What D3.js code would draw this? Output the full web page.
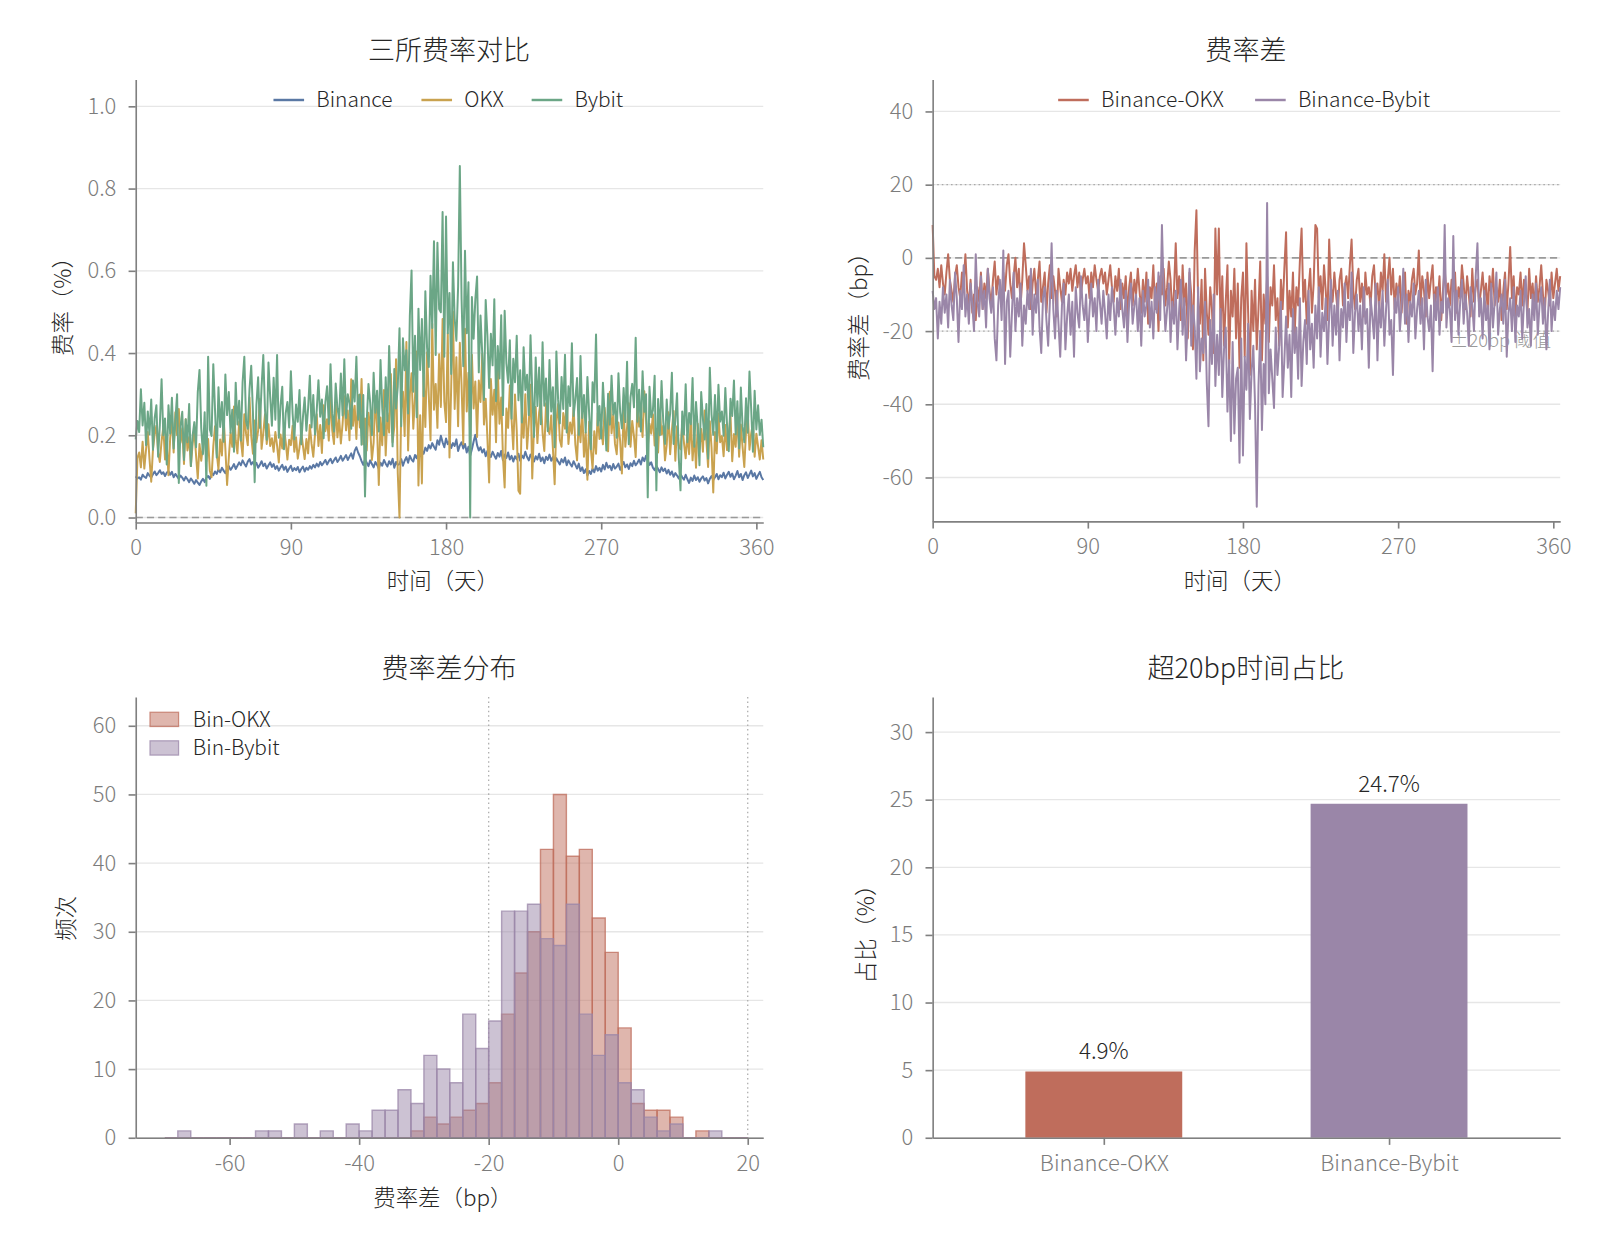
<!DOCTYPE html>
<html><head><meta charset="utf-8">
<script src="https://cdn.jsdelivr.net/npm/d3@7"></script>
<style>
body{margin:0;background:#fff}
svg{display:block}
text{font-family:"Noto Sans CJK SC","Noto Sans",sans-serif}
</style>
</head><body>
<svg id="c" width="1600" height="1244"></svg>
<script>
// ---------------- DATA ----------------
// Binance daily funding rate (%)
const binance = [
0.100,0.095,0.098,0.092,0.104,0.099,0.096,0.108,0.102,0.097,0.105,0.112,0.103,0.108,0.115,0.106,0.110,0.101,0.109,0.113,
0.104,0.111,0.098,0.106,0.100,0.094,0.102,0.097,0.090,0.099,0.093,0.086,0.095,0.089,0.082,0.091,0.085,0.079,0.088,0.094,
0.086,0.097,0.101,0.094,0.108,0.103,0.112,0.106,0.117,0.110,0.121,0.114,0.108,0.119,0.125,0.116,0.122,0.130,0.118,0.126,
0.134,0.127,0.139,0.131,0.124,0.136,0.142,0.129,0.135,0.126,0.133,0.121,0.128,0.137,0.125,0.131,0.119,0.127,0.134,0.123,
0.130,0.118,0.125,0.114,0.122,0.128,0.116,0.124,0.111,0.119,0.126,0.113,0.120,0.115,0.123,0.110,0.118,0.124,0.112,0.121,
0.116,0.125,0.119,0.128,0.122,0.131,0.124,0.135,0.127,0.133,0.140,0.129,0.137,0.143,0.132,0.139,0.146,0.135,0.141,0.150,
0.138,0.145,0.152,0.140,0.148,0.156,0.143,0.162,0.171,0.158,0.149,0.137,0.128,0.141,0.133,0.125,0.139,0.130,0.122,0.135,
0.128,0.119,0.133,0.126,0.140,0.131,0.124,0.137,0.129,0.143,0.121,0.135,0.128,0.130,0.142,0.126,0.138,0.147,0.133,0.150,
0.141,0.136,0.152,0.144,0.158,0.149,0.163,0.155,0.170,0.162,0.176,0.168,0.181,0.172,0.165,0.188,0.177,0.199,0.183,0.171,
0.192,0.178,0.186,0.169,0.181,0.174,0.190,0.162,0.175,0.183,0.168,0.179,0.158,0.172,0.150,0.166,0.185,0.201,0.176,0.163,
0.171,0.158,0.166,0.149,0.162,0.155,0.147,0.160,0.151,0.143,0.157,0.148,0.162,0.139,0.153,0.145,0.158,0.141,0.150,0.136,
0.149,0.142,0.155,0.138,0.151,0.144,0.160,0.147,0.139,0.153,0.145,0.136,0.149,0.141,0.155,0.137,0.146,0.132,0.148,0.140,
0.153,0.138,0.147,0.131,0.144,0.136,0.129,0.142,0.134,0.146,0.127,0.139,0.131,0.124,0.137,0.128,0.119,0.131,0.113,0.122,
0.108,0.117,0.102,0.113,0.106,0.119,0.110,0.125,0.114,0.121,0.112,0.128,0.117,0.133,0.121,0.126,0.115,0.130,0.119,0.124,
0.131,0.116,0.127,0.135,0.122,0.129,0.118,0.132,0.125,0.138,0.127,0.133,0.141,0.129,0.146,0.137,0.150,0.139,0.128,0.134,
0.121,0.115,0.126,0.118,0.110,0.122,0.113,0.119,0.107,0.116,0.104,0.112,0.099,0.108,0.102,0.095,0.106,0.098,0.092,0.104,
0.093,0.084,0.097,0.089,0.102,0.091,0.098,0.087,0.095,0.100,0.090,0.096,0.083,0.094,0.101,0.091,0.098,0.106,0.093,0.103,
0.098,0.109,0.095,0.104,0.111,0.099,0.107,0.093,0.102,0.113,0.098,0.106,0.091,0.103,0.110,0.096,0.105,0.114,0.100,0.108,
0.094,0.103,0.111,0.098,0.091];

// Binance-OKX spread (bp)
const spreadOKX = [
9,-5,-6,-3,-8,-2,-7,-10,-4,1,-6,-9,-12,-5,-2,-8,-11,-4,-7,1,
-9,-13,-6,-15,-10,-17,-8,-12,-4,-14,-7,-11,-3,-9,-13,-6,-1,-10,-5,-8,
-12,-4,-9,-2,1,-7,-11,-5,0,-8,-3,-13,-6,4,-2,-9,-5,-14,-7,-3,
-10,-6,-1,-12,-8,-4,-15,-7,-2,-11,-5,-9,-16,-3,-8,-12,-6,-10,-4,-7,
-3,-9,-5,-2,-8,-4,-10,-6,-3,-7,-5,-11,-4,-8,-2,-6,-9,-5,-3,-7,
-4,-10,-6,-2,-8,-12,-5,-9,-3,-14,-7,-11,-5,-16,-8,-4,-13,-6,-10,-3,
-9,-15,-6,-12,-4,-18,-8,-11,-2,-14,-7,-20,-5,-10,-3,-13,-8,-1,-6,-16,
-9,4,-11,-5,-17,-2,-13,-7,-22,-4,-10,-25,2,13,-12,-18,-6,-28,-3,-15,
-21,-8,-14,-26,8,-10,8,-19,-5,-24,-12,-2,-29,-9,-16,-3,-22,-7,-30,-11,
-4,-27,4,-15,-32,-9,-20,-6,-25,-14,-1,-28,-10,-18,-5,-23,-8,-13,-2,-17,
-11,-24,-6,-14,-3,7,-19,-9,-16,-4,-21,-8,-13,-1,8,-12,-6,-18,-9,-3,
-15,-7,9,8,-11,-5,-14,-2,-9,-17,5,-8,-12,-4,-10,-15,-6,-3,-13,-8,
-5,-11,-2,5,-9,-14,-6,-3,-12,-7,-16,-4,-10,-8,-13,-5,-2,-11,-7,-14,
-4,-9,1,-12,-6,0,-10,-3,-14,-7,-11,-5,-15,-8,-4,-18,-9,-12,-6,-3,
-10,-7,2,-13,-5,-9,-16,-4,-11,-6,-2,-14,-8,-12,-5,-17,-9,-3,-10,-7,
-13,-6,-9,-4,-15,-8,-11,-2,-7,-14,-5,-10,-16,-3,-12,-8,-6,-13,-9,-4,
-11,-7,-15,-5,-10,-3,-13,-8,-12,-6,-17,-9,-4,-14,-7,3,-11,-5,-16,-8,
-10,-4,-13,-6,-9,-15,-3,-11,-7,-14,-5,-12,-8,-2,-10,-16,-6,-9,-13,-4,
-11,-7,-3,-9,-5];

// Binance-Bybit spread (bp)
const spreadBybit = [
-9,-14,-11,-22,-12,-18,-8,-15,-10,-19,-6,-13,-17,-4,-11,-23,-9,-14,-2,-16,
-10,-18,-7,-13,-20,1,-12,-16,-5,-14,-9,-19,-3,-11,-15,-8,-22,-28,-13,-6,
-17,2,-29,-12,-9,-27,-15,-4,-20,-11,-16,-7,-24,-13,-18,-9,-14,-3,-21,-10,
-15,-6,-19,-26,-11,-8,-17,-24,-12,4,-14,-22,-9,-18,-27,-13,-7,-25,-16,-10,
-21,-12,-27,-8,-15,-19,-5,-13,-17,-10,-23,-14,-7,-16,-11,-20,-6,-12,-18,-9,
-15,-22,-10,-17,-8,-13,-21,-11,-16,-6,-14,-19,-9,-23,-12,-7,-18,-13,-10,-20,
-11,-24,-9,-16,-13,-6,-19,-12,-22,-8,-15,-4,-17,9,-10,-20,-14,-7,-23,-12,
-18,-9,-25,-14,-6,-21,-11,-28,-16,-3,-24,-13,-19,-33,-8,-31,-22,-26,-12,-34,
-46,-17,-29,-10,-35,-21,-32,-14,-38,-25,-19,-42,-28,-50,-23,-48,-33,-30,-56,-22,
-54,-27,-36,-18,-44,-31,-24,-40,-68,-35,-20,-47,-29,-40,15,-37,-25,-33,-41,-19,
-32,-24,-12,-38,-28,-16,-30,-21,-38,-14,-26,-19,-33,-11,-35,-23,-17,-29,-9,-25,
-18,-30,-13,-22,-8,-27,-15,-20,-11,-29,-16,-6,-24,-13,-21,-9,-28,-14,-19,-7,
-23,-12,-17,-4,-26,-15,-10,-20,-13,-25,-8,-18,-14,-30,-11,-16,-22,-7,-28,-12,
-19,-9,-24,-14,-6,-21,-17,-32,-11,-15,-8,-20,-13,-3,-18,-10,-23,-12,-16,-7,
-22,-14,-9,-18,-11,-25,-6,-16,-20,-13,-31,-10,-17,-8,-21,-12,-15,9,-19,-11,
-14,-23,6,-17,-9,-21,-12,-6,-18,-10,-15,-24,-8,-13,-20,-5,4,-16,-11,-22,
-9,-17,-13,-25,-7,-19,-12,-4,-21,-14,-10,-18,-6,-27,-15,-11,-20,-8,-23,-13,
-16,-9,-22,-12,-5,-19,-14,-24,-10,-17,-7,-21,-13,-8,-18,-11,-25,-15,-6,-20,
-12,-17,-9,-14,-8];

// Histogram: bins of 2bp from -70 to 20, counts
const histBinStart = -70, histBinWidth = 2;
const histOKX = [0,0,0,0,0,0,0,0,0,0,0,0,0,0,0,0,0,0,0,
  1,3,2,3,4,5,8,18,24,30,42,50,41,42,32,27,16,5,4,4,3,0,1,0,0,0];
const histBybit = [0,1,0,0,0,0,0,1,1,0,2,0,1,0,2,1,4,4,7,5,12,10,8,18,13,17,
  33,33,34,29,28,34,18,12,15,8,7,3,1,2,0,0,1,0,0];

// Share of time with |spread| > 20bp
const barCategories = ["Binance-OKX","Binance-Bybit"];
const barValues = [4.9, 24.7];

// tick values
const ticksTime = [0,90,180,270,360];
const ticksRate = [0.0,0.2,0.4,0.6,0.8,1.0];
const ticksSpread = [-60,-40,-20,0,20,40];
const ticksHistX = [-60,-40,-20,0,20];
const ticksHistY = [0,10,20,30,40,50,60];
const ticksBarY = [0,5,10,15,20,25,30];

// derived exchange rates (%)
const okx = binance.map((b,i)=> b - spreadOKX[i]/100);
const bybit = binance.map((b,i)=> b - spreadBybit[i]/100);

// ---------------- STYLE ----------------
const C = {blue:"#5a78a4", gold:"#c9a24f", green:"#6ba686", red:"#bf6d5c", purple:"#9a86a8",
  grid:"#e6e6e6", spine:"#808080", tick:"#7c7c7c", text:"#262626"};
const FS = {title:26.5, label:22, tick:21.5, legend:20.5, barlab:22, note:18};

const root = d3.select("#c");
root.append("rect").attr("width",1600).attr("height",1244).attr("fill","#fff");
const svg = root.append("g").attr("transform","scale(1.0204)");

const P1={x0:133,x1:748,y0:78,y1:512};
const P2={x0:914,x1:1529,y0:78,y1:511};
const P3={x0:133,x1:748,y0:683,y1:1115};
const P4={x0:914,x1:1529,y0:683,y1:1115};

const num = d => String(d);
function grid(box,y,ticks){
  svg.append("g").selectAll("line").data(ticks).join("line")
    .attr("x1",box.x0).attr("x2",box.x1)
    .attr("y1",d=>y(d)).attr("y2",d=>y(d))
    .attr("stroke",C.grid).attr("stroke-width",1.3);
}
function axes(box,x,y,xt,xf,yt,yf){
  const gx = svg.append("g").attr("transform",`translate(0,${box.y1})`)
    .call(d3.axisBottom(x).tickValues(xt).tickFormat(xf).tickSize(7).tickSizeOuter(0).tickPadding(10));
  const gy = svg.append("g").attr("transform",`translate(${box.x0},0)`)
    .call(d3.axisLeft(y).tickValues(yt).tickFormat(yf).tickSize(7).tickSizeOuter(0).tickPadding(12));
  [gx,gy].forEach(g=>{
    g.select(".domain").attr("stroke",C.spine).attr("stroke-width",1.6);
    g.selectAll(".tick line").attr("stroke",C.spine).attr("stroke-width",1.6);
    g.selectAll(".tick text").attr("fill",C.tick).style("font-size",FS.tick+"px").style("font-weight","300")
      .style("font-family",'"Noto Sans CJK SC","Noto Sans",sans-serif');
  });
}
function title(txt,cx,y){
  svg.append("text").attr("x",cx).attr("y",y).attr("text-anchor","middle")
    .attr("fill",C.text).style("font-size",FS.title+"px").style("font-weight","300").text(txt);
}
function xlabel(txt,cx,y){
  svg.append("text").attr("x",cx).attr("y",y).attr("text-anchor","middle")
    .attr("fill",C.text).style("font-size",FS.label+"px").style("font-weight","300").text(txt);
}
function ylabel(txt,x,cy){
  svg.append("text").attr("transform",`translate(${x},${cy}) rotate(-90)`).attr("text-anchor","middle")
    .attr("fill",C.text).style("font-size",FS.label+"px").style("font-weight","300").text(txt);
}
function lineLegend(items,y){
  items.forEach(it=>{
    svg.append("line").attr("x1",it.x).attr("x2",it.x+30).attr("y1",y).attr("y2",y)
      .attr("stroke",it.c).attr("stroke-width",2.4);
    svg.append("text").attr("x",it.x+42).attr("y",y+7).attr("fill",C.text)
      .style("font-size",FS.legend+"px").style("font-weight","300").text(it.t);
  });
}

// ---------------- PANEL 1 ----------------
const x1 = d3.scaleLinear([0,364],[P1.x0,P1.x1]);
const y1 = d3.scaleLinear([-0.012,1.065],[P1.y1,P1.y0]);
grid(P1,y1,ticksRate);
svg.append("line").attr("x1",P1.x0).attr("x2",P1.x1).attr("y1",y1(0)).attr("y2",y1(0))
  .attr("stroke","#9a9a9a").attr("stroke-width",1.6).attr("stroke-dasharray","7,4");
const ln1 = d3.line().x((d,i)=>x1(i)).y(d=>y1(d));
[[binance,C.blue],[okx,C.gold],[bybit,C.green]].forEach(([s,c])=>{
  svg.append("path").datum(s).attr("d",ln1).attr("fill","none").attr("stroke",c)
    .attr("stroke-width",1.95).attr("stroke-linejoin","round");
});
axes(P1,x1,y1,ticksTime,num,ticksRate,d=>d.toFixed(1));
title("三所费率对比",440,59);
xlabel("时间（天）",434,577);
ylabel("费率（%）",70,295);
lineLegend([{x:268,t:"Binance",c:C.blue},{x:413,t:"OKX",c:C.gold},{x:521,t:"Bybit",c:C.green}],98);

// ---------------- PANEL 2 ----------------
const x2 = d3.scaleLinear([0,364],[P2.x0,P2.x1]);
const y2 = d3.scaleLinear([-72,48.7],[P2.y1,P2.y0]);
grid(P2,y2,ticksSpread);
svg.append("text").attr("x",1520).attr("y",340).attr("text-anchor","end").attr("fill","#9a9a9a")
  .style("font-size",FS.note+"px").style("font-weight","300").text("±20bp 阈值");
[20,-20].forEach(v=>svg.append("line").attr("x1",P2.x0).attr("x2",P2.x1).attr("y1",y2(v)).attr("y2",y2(v))
  .attr("stroke","#a8a8a8").attr("stroke-width",1.3).attr("stroke-dasharray","1.5,3"));
svg.append("line").attr("x1",P2.x0).attr("x2",P2.x1).attr("y1",y2(0)).attr("y2",y2(0))
  .attr("stroke","#9a9a9a").attr("stroke-width",1.6).attr("stroke-dasharray","7,4");
const ln2 = d3.line().x((d,i)=>x2(i)).y(d=>y2(d));
[[spreadOKX,C.red],[spreadBybit,C.purple]].forEach(([s,c])=>{
  svg.append("path").datum(s).attr("d",ln2).attr("fill","none").attr("stroke",c)
    .attr("stroke-width",1.95).attr("stroke-linejoin","round");
});
axes(P2,x2,y2,ticksTime,num,ticksSpread,num);
title("费率差",1221,59);
xlabel("时间（天）",1215,577);
ylabel("费率差（bp）",850,305);
lineLegend([{x:1037,t:"Binance-OKX",c:C.red},{x:1230,t:"Binance-Bybit",c:C.purple}],98);

// ---------------- PANEL 3 ----------------
const x3 = d3.scaleLinear([-74.5,22.4],[P3.x0,P3.x1]);
const y3 = d3.scaleLinear([0,64.2],[P3.y1,P3.y0]);
grid(P3,y3,ticksHistY);
[-20,20].forEach(v=>svg.append("line").attr("x1",x3(v)).attr("x2",x3(v)).attr("y1",P3.y0).attr("y2",P3.y1)
  .attr("stroke","#b0b0b0").attr("stroke-width",1.3).attr("stroke-dasharray","1.5,3"));
function hist(counts,c){
  svg.append("g").selectAll("path").data(counts).join("path")
    .attr("d",(d,i)=>{
      const a=x3(histBinStart+i*histBinWidth), b=x3(histBinStart+(i+1)*histBinWidth);
      return `M${a},${y3(0)}V${y3(d)}H${b}V${y3(0)}Z`;
    })
    .attr("fill",c).attr("fill-opacity",0.5).attr("stroke",c).attr("stroke-opacity",0.75).attr("stroke-width",1.4);
}
hist(histOKX,C.red);
hist(histBybit,C.purple);
axes(P3,x3,y3,ticksHistX,num,ticksHistY,num);
title("费率差分布",440,664);
xlabel("费率差（bp）",434,1182);
ylabel("频次",73,900);
[{t:"Bin-OKX",c:C.red,y:705},{t:"Bin-Bybit",c:C.purple,y:733}].forEach(it=>{
  svg.append("rect").attr("x",147).attr("y",it.y-7).attr("width",28).attr("height",14)
    .attr("fill",it.c).attr("fill-opacity",0.5).attr("stroke",it.c).attr("stroke-opacity",0.75).attr("stroke-width",1.2);
  svg.append("text").attr("x",189).attr("y",it.y+7).attr("fill",C.text)
    .style("font-size",FS.legend+"px").style("font-weight","300").text(it.t);
});

// ---------------- PANEL 4 ----------------
const x4 = d3.scaleLinear([-0.6,1.6],[P4.x0,P4.x1]);
const y4 = d3.scaleLinear([0,32.6],[P4.y1,P4.y0]);
grid(P4,y4,ticksBarY);
const barW = 0.55;
const barColors = [C.red,C.purple];
svg.append("g").selectAll("rect").data(barValues).join("rect")
  .attr("x",(d,i)=>x4(i-barW/2)).attr("width",x4(barW)-x4(0))
  .attr("y",d=>y4(d)).attr("height",d=>y4(0)-y4(d)).attr("fill",(d,i)=>barColors[i]);
svg.append("g").selectAll("text").data(barValues).join("text")
  .attr("x",(d,i)=>x4(i)).attr("y",d=>y4(d)-12).attr("text-anchor","middle").attr("fill",C.text)
  .style("font-size",FS.barlab+"px").style("font-weight","300").text(d=>d.toFixed(1)+"%");
axes(P4,x4,y4,[0,1],i=>barCategories[i],ticksBarY,num);
title("超20bp时间占比",1221,664);
ylabel("占比（%）",857,910);
</script>
</body></html>
